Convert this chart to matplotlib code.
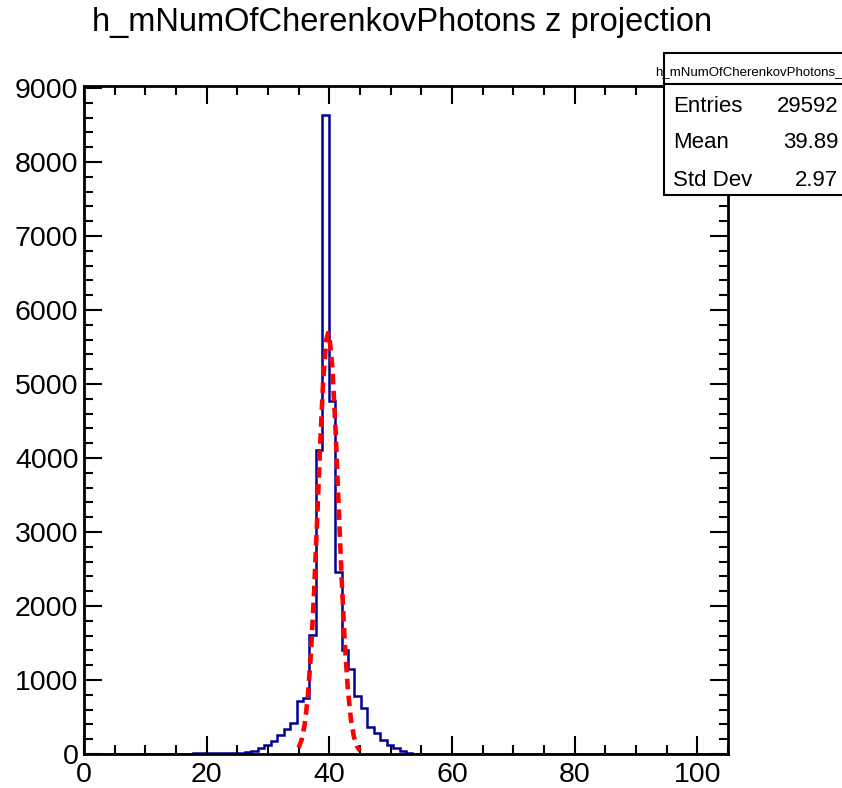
import numpy as np
import matplotlib
matplotlib.use("Agg")
from matplotlib import pyplot as plt
from matplotlib.patches import Rectangle
from matplotlib.ticker import MultipleLocator

plt.rcParams['font.family'] = ['Liberation Sans', 'DejaVu Sans']

# histogram: 100 bins on [0, 105]
n_bins = 100
x_lo, x_hi = 0.0, 105.0
first_bin = 17
counts = [8, 10, 12, 12, 14, 16, 18, 20, 28,
          45, 77, 122, 180, 257, 333, 423,
          715, 760,
          1608, 4110, 8630, 4770,
          2460, 1405, 1145, 784, 618, 369, 280, 189, 122, 77, 45, 18, 6, 3]

# gaussian fit curve
fit_x = [35.0, 35.5, 36.0, 36.5, 37.0, 37.5, 38.0, 38.5, 39.0, 39.5, 39.8,
         40.0, 40.5, 41.0, 41.5, 42.0, 42.5, 43.0, 43.5, 44.0, 44.5, 45.0]
fit_y = [85, 196, 408, 779, 1358, 2161, 3140, 4168, 5051, 5592, 5690,
         5653, 5219, 4401, 3388, 2384, 1531, 897, 481, 235, 105, 43]

title = "h_mNumOfCherenkovPhotons z projection"
stats_name = "h_mNumOfCherenkovPhotons_"
stats_labels = ["Entries", "Mean", "Std Dev"]
stats_values = ["29592", "39.89", "2.97"]

W, H = 842, 788
edges = np.linspace(x_lo, x_hi, n_bins + 1)
values = np.zeros(n_bins)
values[first_bin:first_bin + len(counts)] = counts

fig = plt.figure(figsize=(W / 100, H / 100), dpi=100)
ax = fig.add_axes([84 / W, 1 - 754 / H, (728 - 84) / W, (754 - 86) / H])

ax.stairs(values, edges, color='#000099', lw=1.8, baseline=None)
ax.plot(fit_x, fit_y, color='#ff0000', lw=3.3, linestyle=(0, (2.3, 1.4)))

ax.set_xlim(x_lo, x_hi)
ax.set_ylim(0, 9027)
ax.xaxis.set_major_locator(MultipleLocator(20))
ax.xaxis.set_minor_locator(MultipleLocator(5))
ax.yaxis.set_major_locator(MultipleLocator(1000))
ax.yaxis.set_minor_locator(MultipleLocator(200))
ax.tick_params(which='both', direction='in', top=True, right=True,
               width=1.5, labelsize=20.5)
ax.tick_params(which='major', length=13)
ax.tick_params(which='minor', length=6.5)
ax.tick_params(axis='x', pad=5.5)
ax.tick_params(axis='y', pad=4)
for s in ax.spines.values():
    s.set_linewidth(2)

fig.text(402 / W, 1 - 22 / H, title, ha='center', va='center', fontsize=23.5)

# stats box
bx0, by_top, by_bot = 664, 53, 195
fig.patches.append(Rectangle((bx0 / W, 1 - by_bot / H), (860 - bx0) / W,
                             (by_bot - by_top) / H, transform=fig.transFigure,
                             facecolor='white', edgecolor='black', lw=1.5,
                             zorder=5))
fig.add_artist(plt.Line2D([bx0 / W, 1], [1 - 84 / H, 1 - 84 / H],
                          transform=fig.transFigure, color='black', lw=1.5,
                          zorder=6))
fig.text(655 / W, 1 - 72 / H, stats_name, ha='left', va='center',
         fontsize=9.5, zorder=7)
for i, (lab, val) in enumerate(zip(stats_labels, stats_values)):
    yy = 1 - (106 + 37 * i) / H
    fig.text(673 / W, yy, lab, ha='left', va='center', fontsize=16, zorder=7)
    fig.text(838 / W, yy, val, ha='right', va='center', fontsize=16, zorder=7)

fig.savefig("out.png", dpi=100)
